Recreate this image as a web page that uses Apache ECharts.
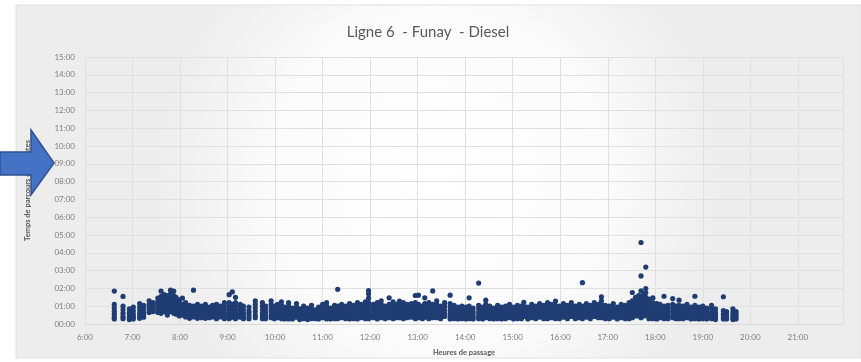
<!DOCTYPE html>
<html>
<head>
<meta charset="utf-8">
<script src="https://cdn.jsdelivr.net/npm/echarts@6/dist/echarts.min.js"></script>
<style>
html,body{margin:0;padding:0;background:#fff;}
#chart{width:861px;height:362px;}
</style>
</head>
<body>
<div id="chart"></div>
<script>
// Title / axis texts
const chartTitle = 'Ligne 6  - Funay  - Diesel';
const xAxisTitle = 'Heures de passage';
const yAxisTitle = 'Temps de parcours en minutes';

// X ticks: hours 6..21 ; Y ticks: 00:00 .. 15:00 (minutes)
const xTickHours = [6,7,8,9,10,11,12,13,14,15,16,17,18,19,20,21];
const yTickMinutes = [0,1,2,3,4,5,6,7,8,9,10,11,12,13,14,15];

// Each entry: [heure de passage, [temps de parcours en minutes ...]]
const matin = [
  ['6:37',[1.85,1.1,0.9,0.72,0.55,0.38,0.28]],
  ['6:48',[1.55,1.0,0.8,0.6,0.42,0.3]],
  ['6:56',[0.85,0.65,0.5,0.35,0.25]],
  ['7:01',[0.95,0.75,0.55,0.4,0.28]],
  ['7:09',[1.15,0.95,0.8,0.6,0.45,0.32]],
  ['7:14',[1.05,0.85,0.65,0.5,0.38]],
  ['7:21',[1.3,1.1,0.95,0.8,0.65]],
  ['7:26',[1.2,1.0,0.85,0.7]],
  ['7:32',[1.45,1.25,1.1,0.95,0.8,0.65]],
  ['7:36',[1.85,1.55,1.35,1.2,1.05,0.9,0.75,0.6]],
  ['7:40',[1.65,1.5,1.3,1.15,1.0,0.85,0.7]],
  ['7:44',[1.6,1.4,1.25,1.1,0.95,0.8,0.65,0.5]],
  ['7:48',[1.9,1.7,1.45,1.3,1.15,1.0,0.85,0.7]],
  ['7:52',[1.85,1.6,1.4,1.2,1.05,0.9,0.75,0.6]],
  ['7:55',[1.5,1.3,1.15,1.0,0.85,0.7,0.55]],
  ['7:59',[1.35,1.2,1.05,0.9,0.75,0.6,0.45]],
  ['8:03',[1.45,1.1,0.95,0.8,0.65,0.5]],
  ['8:07',[1.2,1.0,0.85,0.7,0.55,0.4]],
  ['8:12',[1.05,0.9,0.75,0.6,0.45,0.32]],
  ['8:17',[1.9,1.0,0.85,0.7,0.55,0.4]],
  ['8:22',[1.1,0.9,0.75,0.6,0.45,0.32]],
  ['8:27',[1.0,0.85,0.7,0.5,0.35]],
  ['8:32',[1.1,0.95,0.8,0.6,0.45,0.32]],
  ['8:37',[0.95,0.8,0.65,0.5,0.35]],
  ['8:41',[1.05,0.9,0.7,0.55,0.4]],
  ['8:46',[1.1,0.95,0.8,0.6,0.45,0.3]],
  ['8:51',[1.0,0.85,0.7,0.55,0.4]],
  ['8:56',[1.2,1.0,0.8,0.6,0.45,0.3]],
  ['9:02',[1.65,1.2,1.0,0.85,0.65,0.45,0.3]],
  ['9:06',[1.8,1.1,0.9,0.75,0.55,0.38]],
  ['9:10',[1.5,1.2,1.0,0.8,0.6,0.45,0.3]],
  ['9:16',[1.1,0.9,0.75,0.55,0.38]],
  ['9:20',[1.0,0.8,0.6,0.45,0.3]],
  ['9:27',[0.95,0.75,0.6,0.45,0.3]],
  ['9:35',[1.3,1.1,0.9,0.7,0.5,0.35]],
  ['9:44',[1.2,1.0,0.8,0.6,0.45,0.3]],
  ['9:48',[1.0,0.8,0.6,0.45,0.3]],
  ['9:55',[1.3,1.1,0.9,0.7,0.5,0.35]],
  ['9:59',[1.0,0.8,0.6,0.45,0.3]]
];

const midi = [
  ['10:03',[1.1,0.9,0.7,0.5,0.35]],
  ['10:08',[1.25,1.05,0.85,0.65,0.45,0.3]],
  ['10:12',[0.95,0.75,0.55,0.4,0.28]],
  ['10:17',[1.2,1.0,0.8,0.6,0.4,0.28]],
  ['10:22',[0.9,0.7,0.55,0.4,0.28]],
  ['10:27',[1.15,0.95,0.75,0.55,0.38]],
  ['10:31',[0.85,0.65,0.5,0.35,0.25]],
  ['10:36',[1.0,0.8,0.6,0.45,0.3]],
  ['10:41',[0.9,0.7,0.5,0.35,0.25]],
  ['10:46',[1.05,0.85,0.65,0.45,0.3]],
  ['10:51',[0.8,0.6,0.45,0.3]],
  ['10:55',[0.95,0.75,0.55,0.4,0.28]],
  ['11:00',[1.1,0.9,0.7,0.5,0.35]],
  ['11:05',[1.2,1.0,0.8,0.6,0.4,0.28]],
  ['11:10',[0.9,0.7,0.55,0.4,0.28]],
  ['11:15',[1.05,0.85,0.65,0.45,0.3]],
  ['11:19',[1.95,1.0,0.8,0.6,0.45,0.3]],
  ['11:24',[1.1,0.9,0.7,0.5,0.35]],
  ['11:29',[1.0,0.8,0.6,0.45,0.3]],
  ['11:34',[1.15,0.95,0.75,0.55,0.4,0.28]],
  ['11:39',[1.05,0.85,0.65,0.45,0.3]],
  ['11:44',[1.2,1.0,0.8,0.6,0.4,0.28]],
  ['11:49',[1.1,0.9,0.7,0.5,0.35]],
  ['11:54',[1.25,1.05,0.85,0.65,0.45,0.3]],
  ['11:58',[1.88,1.7,1.45,1.2,1.0,0.8,0.6,0.45,0.3]],
  ['12:04',[1.1,0.9,0.7,0.5,0.35]],
  ['12:09',[1.2,1.0,0.8,0.6,0.4,0.28]],
  ['12:14',[1.3,1.1,0.9,0.7,0.5,0.35]],
  ['12:19',[1.0,0.8,0.6,0.45,0.3]],
  ['12:24',[1.47,1.1,0.9,0.7,0.5,0.35]],
  ['12:29',[1.25,1.05,0.85,0.65,0.45,0.3]],
  ['12:33',[1.1,0.9,0.7,0.5,0.35]],
  ['12:37',[1.29,1.1,0.9,0.7,0.5,0.35]],
  ['12:42',[1.2,1.0,0.8,0.6,0.45,0.3]],
  ['12:47',[1.1,0.9,0.7,0.5,0.35]],
  ['12:52',[1.15,0.95,0.75,0.55,0.38]],
  ['12:57',[1.6,1.2,1.0,0.8,0.6,0.45,0.3]],
  ['13:01',[1.62,1.1,0.9,0.7,0.5,0.35]],
  ['13:06',[1.0,0.8,0.6,0.45,0.3]],
  ['13:09',[1.47,1.15,0.95,0.75,0.55,0.38]],
  ['13:14',[1.2,1.0,0.8,0.6,0.45,0.3]],
  ['13:19',[1.86,1.1,0.9,0.7,0.5,0.35]],
  ['13:24',[1.3,1.1,0.9,0.7,0.5,0.35]],
  ['13:29',[1.0,0.8,0.6,0.45,0.3]],
  ['13:34',[1.2,1.0,0.8,0.6,0.42]],
  ['13:41',[1.62,1.15,0.95,0.75,0.55,0.4,0.28]],
  ['13:46',[1.05,0.85,0.65,0.45,0.3]],
  ['13:51',[0.95,0.75,0.55,0.4,0.28]],
  ['13:56',[1.0,0.8,0.6,0.45,0.3]]
];

const apresMidi = [
  ['14:01',[0.95,0.75,0.55,0.4,0.28]],
  ['14:05',[1.47,1.0,0.8,0.6,0.45,0.3]],
  ['14:10',[0.9,0.7,0.55,0.4,0.28]],
  ['14:17',[2.3,1.05,0.85,0.65,0.45,0.3]],
  ['14:22',[0.95,0.75,0.55,0.4,0.28]],
  ['14:26',[1.34,1.1,0.9,0.7,0.5,0.35]],
  ['14:31',[1.0,0.8,0.6,0.45,0.3]],
  ['14:36',[0.9,0.7,0.55,0.4,0.28]],
  ['14:41',[1.05,0.85,0.65,0.45,0.3]],
  ['14:46',[0.95,0.75,0.55,0.4,0.28]],
  ['14:51',[1.0,0.8,0.6,0.45,0.3]],
  ['14:56',[1.1,0.9,0.7,0.5,0.35]],
  ['15:01',[0.95,0.75,0.55,0.4,0.28]],
  ['15:06',[1.05,0.85,0.65,0.45,0.3]],
  ['15:11',[1.0,0.8,0.6,0.45,0.3]],
  ['15:14',[1.22,1.0,0.8,0.6,0.42]],
  ['15:19',[0.95,0.75,0.55,0.4,0.28]],
  ['15:24',[1.1,0.9,0.7,0.5,0.35]],
  ['15:29',[1.0,0.8,0.6,0.45,0.3]],
  ['15:34',[1.15,0.95,0.75,0.55,0.38]],
  ['15:39',[1.05,0.85,0.65,0.45,0.3]],
  ['15:44',[1.2,1.0,0.8,0.6,0.45,0.3]],
  ['15:49',[1.1,0.9,0.7,0.5,0.35]],
  ['15:54',[1.29,1.05,0.85,0.65,0.45,0.3]],
  ['15:59',[1.0,0.8,0.6,0.45,0.3]],
  ['16:04',[1.15,0.95,0.75,0.55,0.38]],
  ['16:09',[1.05,0.85,0.65,0.45,0.3]],
  ['16:14',[1.2,1.0,0.8,0.6,0.42]],
  ['16:19',[1.0,0.8,0.6,0.45,0.3]],
  ['16:24',[1.1,0.9,0.7,0.5,0.35]],
  ['16:28',[2.32,1.0,0.8,0.6,0.45,0.3]],
  ['16:33',[1.15,0.95,0.75,0.55,0.38]],
  ['16:38',[1.05,0.85,0.65,0.45,0.3]],
  ['16:43',[1.2,1.0,0.8,0.6,0.42]],
  ['16:48',[1.1,0.9,0.7,0.5,0.35]],
  ['16:52',[1.53,1.3,1.1,0.9,0.7,0.5,0.35]],
  ['16:57',[1.05,0.85,0.65,0.45,0.3]]
];

const soir = [
  ['17:02',[1.0,0.8,0.6,0.45,0.3]],
  ['17:07',[1.15,0.95,0.75,0.55,0.38]],
  ['17:12',[0.95,0.75,0.55,0.4,0.28]],
  ['17:17',[1.1,0.9,0.7,0.5,0.35]],
  ['17:22',[1.05,0.85,0.65,0.45,0.3]],
  ['17:27',[1.2,1.0,0.8,0.6,0.45,0.3]],
  ['17:31',[1.77,1.3,1.1,0.9,0.7,0.5,0.35]],
  ['17:35',[1.5,1.3,1.1,0.9,0.75,0.6,0.45]],
  ['17:39',[1.6,1.4,1.2,1.0,0.8,0.6,0.45]],
  ['17:42',[4.58,2.7,1.86,1.55,1.3,1.1,0.9,0.7,0.5,0.35]],
  ['17:46',[1.7,1.45,1.25,1.05,0.85,0.65,0.45]],
  ['17:48',[3.2,1.99,1.75,1.5,1.3,1.1,0.9,0.7,0.5]],
  ['17:52',[1.4,1.2,1.0,0.8,0.6,0.45,0.3]],
  ['17:57',[1.47,1.2,1.0,0.8,0.6,0.45,0.3]],
  ['18:02',[1.15,0.95,0.75,0.55,0.4,0.28]],
  ['18:06',[1.1,0.9,0.7,0.5,0.35]],
  ['18:11',[1.56,1.0,0.8,0.6,0.45,0.3]],
  ['18:16',[1.05,0.85,0.65,0.45,0.3]],
  ['18:22',[1.43,1.1,0.9,0.7,0.5,0.35]],
  ['18:26',[1.0,0.8,0.6,0.45,0.3]],
  ['18:30',[1.34,1.05,0.85,0.65,0.45,0.3]],
  ['18:35',[1.0,0.8,0.6,0.45,0.3]],
  ['18:40',[1.1,0.9,0.7,0.5,0.35]],
  ['18:45',[0.95,0.75,0.55,0.4,0.28]],
  ['18:50',[1.56,1.05,0.85,0.65,0.45,0.3]],
  ['18:55',[0.95,0.75,0.55,0.4,0.28]],
  ['19:00',[1.0,0.8,0.6,0.45,0.3]],
  ['19:05',[0.9,0.7,0.55,0.4,0.28]],
  ['19:11',[1.05,0.85,0.65,0.45,0.3]],
  ['19:16',[0.85,0.65,0.5,0.35,0.25]],
  ['19:26',[1.53,0.75,0.55,0.4,0.28]],
  ['19:30',[0.7,0.55,0.4,0.28]],
  ['19:38',[0.85,0.65,0.5,0.35,0.25]],
  ['19:42',[0.7,0.55,0.4,0.28]]
];

function toHours(s){ const p = s.split(':'); return Number(p[0]) + Number(p[1])/60; }
function pad2(n){ return (n < 10 ? '0' : '') + n; }

const points = [];
[matin, midi, apresMidi, soir].forEach(function(block){
  block.forEach(function(row){
    const h = toHours(row[0]);
    row[1].forEach(function(v){ points.push([h, v]); });
  });
});

const chart = echarts.init(document.getElementById('chart'), null, {renderer:'canvas'});
const FONT = 'Lato, "Open Sans", sans-serif';

const option = {
  backgroundColor: '#ffffff',
  animation: false,
  title: {
    text: chartTitle,
    left: 423, top: 20, textAlign: 'center',
    textStyle: {fontFamily: FONT, fontSize: 15, fontWeight: 'normal', color: '#595959'}
  },
  grid: {left: 85, right: 18, top: 57, bottom: 33, containLabel: false},
  xAxis: {
    type: 'value',
    min: xTickHours[0], max: 21.95, interval: 1,
    name: xAxisTitle, nameLocation: 'middle', nameGap: 25,
    nameTextStyle: {fontFamily: FONT, fontSize: 7.5, fontWeight: 'bold', color: '#595959'},
    axisLine: {show: true, lineStyle: {color: '#d9d9d9'}},
    axisTick: {show: false},
    axisLabel: {
      fontFamily: FONT, fontSize: 8, color: '#7f7f7f', margin: 9,
      showMaxLabel: false,
      formatter: function(v){ return xTickHours.indexOf(Math.round(v)) >= 0 && Math.abs(v-Math.round(v))<1e-6 ? Math.round(v) + ':00' : ''; }
    },
    splitLine: {show: true, lineStyle: {color: '#e0e0e0', width: 1}}
  },
  yAxis: {
    type: 'value',
    min: yTickMinutes[0], max: yTickMinutes[yTickMinutes.length-1], interval: 1,
    name: yAxisTitle, nameLocation: 'middle', nameGap: 53, nameRotate: 90,
    nameTextStyle: {fontFamily: FONT, fontSize: 7.5, fontWeight: 'bold', color: '#595959'},
    axisLine: {show: false},
    axisTick: {show: false},
    axisLabel: {
      fontFamily: FONT, fontSize: 8, color: '#7f7f7f', margin: 10,
      formatter: function(v){ return pad2(v) + ':00'; }
    },
    splitLine: {show: true, lineStyle: {color: '#e0e0e0', width: 1}}
  },
  series: [{
    type: 'scatter',
    data: points,
    symbol: 'circle',
    symbolSize: 5.2,
    itemStyle: {color: '#1f3d73', opacity: 1},
    z: 3
  }],
  graphic: [
    {
      type: 'rect', z: -10, silent: true,
      shape: {x: 16, y: 5, width: 845, height: 353},
      style: {
        fill: new echarts.graphic.RadialGradient(0.5, 0.5, 0.8, [
          {offset: 0, color: '#ffffff'},
          {offset: 0.6, color: '#fbfbfb'},
          {offset: 1, color: '#ededed'}
        ]),
        stroke: '#e0e0e0', lineWidth: 1
      }
    },
    {
      type: 'polygon', z: 100, silent: true,
      shape: {points: [[0,152],[31,152],[31,130],[54,163],[31,195],[31,175],[0,175]]},
      style: {fill: '#4472c4', stroke: '#2f528f', lineWidth: 1.5}
    }
  ]
};
chart.setOption(option);
</script>
</body>
</html>
